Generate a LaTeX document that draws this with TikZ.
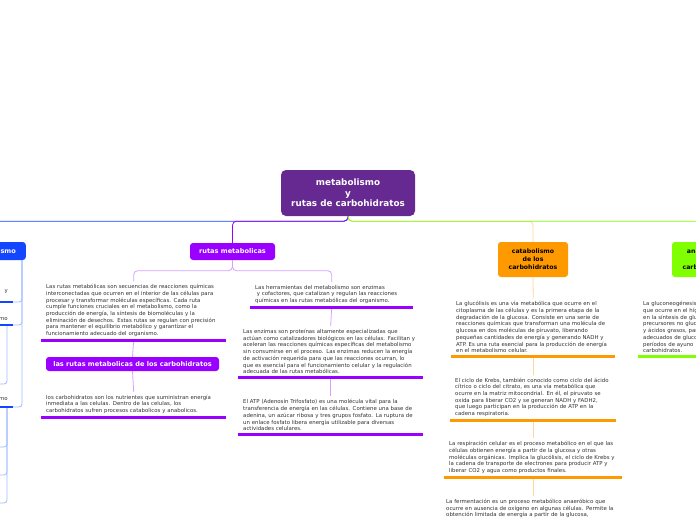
\documentclass[tikz,border=0pt]{standalone}
\usepackage{fontspec}
\setmainfont{DejaVu Sans}
\definecolor{rootc}{RGB}{102,41,145}
\definecolor{bluec}{RGB}{20,70,255}
\definecolor{bluel}{RGB}{160,188,255}
\definecolor{vio}{RGB}{153,0,255}
\definecolor{viol}{RGB}{214,160,255}
\definecolor{ora}{RGB}{255,153,0}
\definecolor{oral}{RGB}{255,214,160}
\definecolor{gre}{RGB}{128,255,0}
\definecolor{grel}{RGB}{200,255,150}
\definecolor{txt}{RGB}{51,51,51}
\tikzset{
  topic/.style = {rounded corners=3pt, text=white, align=center, inner sep=0pt,
    font=\bfseries\fontsize{6.6}{8}\selectfont},
  note/.style = {text=txt, align=left, inner xsep=5pt, inner ysep=3pt,
    anchor=south west, font=\fontsize{5.4}{6.7}\selectfont},
  leaf/.style = {note, text width=50pt, align=right, anchor=south east},
  link/.style = {line width=0.8pt, rounded corners=4pt},
  bar/.style = {line width=3pt}
}

\begin{document}
\begin{tikzpicture}[x=1pt,y=-1pt]
  \useasboundingbox (0,0) rectangle (696,520);
  \clip (0,0) rectangle (696,520);
  \fill[white] (0,0) rectangle (696,520);

  % central topic
  \node[topic, fill=rootc, minimum width=134pt, minimum height=46pt, rounded corners=5pt,
    font=\bfseries\fontsize{8.8}{10.5}\selectfont] (root) at (348,193)
    {metabolismo\\y\\rutas de carbohidratos};

  % main topics
  \node[topic, fill=bluec, minimum width=68pt, minimum height=18pt, anchor=east] (met) at (26,251) {metabolismo};
  \node[topic, fill=vio, minimum width=85pt, minimum height=17pt] (rutas) at (232.5,251.5) {rutas metabolicas};
  \node[topic, fill=ora, text=black, minimum width=70pt, minimum height=35pt,
    font=\bfseries\fontsize{6.2}{8}\selectfont] (cata) at (533,259.5) {catabolismo\\de los\\carbohidratos};
  \node[topic, fill=gre, text=black, minimum width=70pt, minimum height=35pt,
    font=\bfseries\fontsize{6.2}{8}\selectfont] (ana) at (707,259.5) {anabolismo\\de los\\carbohidratos};

  \draw[link, bluec] (root.south) -- ++(0,5) -| (met.north);
  \draw[link, oral] (root.south) -- ++(0,5) -| (cata.north);
  \draw[link, vio] (root.south) -- ++(0,5) -| (rutas.north);
  \draw[link, gre] (root.south) -- ++(0,5) -| (ana.north);

  % left branch
  \node[leaf, inner ysep=8pt] (lc1) at (13,302) {y};
  \node[leaf, inner ysep=4.5pt] (lc2) at (13,325) {mo};
  \node[leaf, inner ysep=6pt] (lc3) at (13,407) {mo};
  \coordinate (lc2a) at (-10,384);
  \coordinate (lc3a) at (-10,447);
  \coordinate (lc3b) at (-10,475);
  \coordinate (lc3c) at (-10,503);
  \draw[link, bluel, rounded corners=3pt] ([xshift=-4pt]met.south east) |- (lc1.south east);
  \draw[link, bluel, rounded corners=3pt] ([xshift=-4pt]met.south east) |- (lc2.south east);
  \draw[link, bluel, rounded corners=3pt] ([xshift=-4pt]met.south east) |- (lc3.south east);
  \draw[link, bluel, rounded corners=3pt] ([xshift=-6pt]lc2.south east) |- (lc2a);
  \draw[link, bluel, rounded corners=3pt] ([xshift=-6pt]lc3.south east) |- (lc3a);
  \draw[link, bluel, rounded corners=3pt] ([xshift=-6pt]lc3.south east) |- (lc3b);
  \draw[link, bluel, rounded corners=3pt] ([xshift=-6pt]lc3.south east) |- (lc3c);
  \draw[bar, line width=2pt, bluec] (lc1.south west) -- (lc1.south east);
  \draw[bar, line width=2pt, bluec] (lc2.south west) -- (lc2.south east);
  \draw[bar, line width=2pt, bluec] (lc3.south west) -- (lc3.south east);

  % rutas metabolicas
  \node[note, text width=175pt] (p1) at (41,340)
    {Las rutas metabólicas son secuencias de reacciones químicas\\
     interconectadas que ocurren en el interior de las células para\\
     procesar y transformar moléculas específicas. Cada ruta\\
     cumple funciones cruciales en el metabolismo, como la\\
     producción de energía, la síntesis de biomoléculas y la\\
     eliminación de desechos. Estas rutas se regulan con precisión\\
     para mantener el equilibrio metabólico y garantizar el\\
     funcionamiento adecuado del organismo.};
  \node[topic, fill=vio, minimum width=173pt, minimum height=14pt] (l2) at (132.5,364)
    {las rutas metabolicas de los carbohidratos};
  \node[note, text width=175pt] (p2) at (41,417)
    {los carbohidratos son los nutrientes que suministran energía\\
     inmediata a las celulas. Dentro de las celulas, los\\
     carbohidratos sufren procesos catabolicos y anabolicos.};
  \node[note, text width=153pt] (p3) at (250,307)
    {Las herramientas del metabolismo son enzimas\\
     \hspace*{1.6pt}y cofactores, que catalizan y regulan las reacciones\\
     químicas en las rutas metabólicas del organismo.};
  \node[note, text width=175pt] (p4) at (238,377)
    {Las enzimas son proteínas altamente especializadas que\\
     actúan como catalizadores biológicos en las células. Facilitan y\\
     aceleran las reacciones químicas específicas del metabolismo\\
     sin consumirse en el proceso. Las enzimas reducen la energía\\
     de activación requerida para que las reacciones ocurran, lo\\
     que es esencial para el funcionamiento celular y la regulación\\
     adecuada de las rutas metabólicas.};
  \node[note, text width=175pt] (p5) at (238,434)
    {El ATP (Adenosín Trifosfato) es una molécula vital para la\\
     transferencia de energía en las células. Contiene una base de\\
     adenina, un azúcar ribosa y tres grupos fosfato. La ruptura de\\
     un enlace fosfato libera energía utilizable para diversas\\
     actividades celulares.};

  \draw[link, viol] (rutas.south) -- ++(0,10.5) -| (p1.north);
  \draw[link, viol] (rutas.south) -- ++(0,10.5) -| (p3.north);
  \draw[link, viol] (p1.south) -- (l2.north);
  \draw[link, viol] (l2.south) -- (p2.north);
  \draw[link, viol] (p3.south) -- (p4.north);
  \draw[link, viol] (p4.south) -- (p5.north);
  \draw[bar, vio] (p1.south west) -- (p1.south east);
  \draw[bar, vio] (p2.south west) -- (p2.south east);
  \draw[bar, vio] (p3.south west) -- (p3.south east);
  \draw[bar, vio] (p4.south west) -- (p4.south east);
  \draw[bar, vio] (p5.south west) -- (p5.south east);

  % catabolismo
  \node[note, text width=154pt] (glu) at (451,356)
    {La glucólisis es una vía metabólica que ocurre en el\\
     citoplasma de las células y es la primera etapa de la\\
     degradación de la glucosa. Consiste en una serie de\\
     reacciones químicas que transforman una molécula de\\
     glucosa en dos moléculas de piruvato, liberando\\
     pequeñas cantidades de energía y generando NADH y\\
     ATP. Es una ruta esencial para la producción de energía\\
     en el metabolismo celular.};
  \node[note, text width=156pt] (kre) at (450,420)
    {El ciclo de Krebs, también conocido como ciclo del ácido\\
     cítrico o ciclo del citrato, es una vía metabólica que\\
     ocurre en la matriz mitocondrial. En él, el piruvato se\\
     oxida para liberar CO2 y se generan NADH y FADH2,\\
     que luego participan en la producción de ATP en la\\
     cadena respiratoria.};
  \node[note, text width=168pt] (res) at (444,477)
    {La respiración celular es el proceso metabólico en el que las\\
     células obtienen energía a partir de la glucosa y otras\\
     moléculas orgánicas. Implica la glucólisis, el ciclo de Krebs y\\
     la cadena de transporte de electrones para producir ATP y\\
     liberar CO2 y agua como productos finales.};
  \node[note, text width=174pt, anchor=north west] (fer) at (441,496)
    {La fermentación es un proceso metabólico anaeróbico que\\
     ocurre en ausencia de oxígeno en algunas células. Permite la\\
     obtención limitada de energía a partir de la glucosa,};

  \draw[link, oral] (cata.south) -- (glu.north);
  \draw[link, oral] (glu.south) -- (kre.north);
  \draw[link, oral] (kre.south) -- (res.north);
  \draw[link, oral] (res.south) -- (fer.north);
  \draw[bar, ora] (glu.south west) -- (glu.south east);
  \draw[bar, ora] (kre.south west) -- (kre.south east);
  \draw[bar, ora] (res.south west) -- (res.south east);

  % anabolismo
  \node[note, text width=128pt] (gng) at (638,356)
    {La gluconeogénesis\\
     que ocurre en el hígado\\
     en la síntesis de glucosa\\
     precursores no glucídicos\\
     y ácidos grasos, para\\
     adecuados de glucosa\\
     períodos de ayuno\\
     carbohidratos.};
  \draw[link, grel] (ana.south) -- (gng.north);
  \draw[bar, gre] (gng.south west) -- (gng.south east);
\end{tikzpicture}
\end{document}
